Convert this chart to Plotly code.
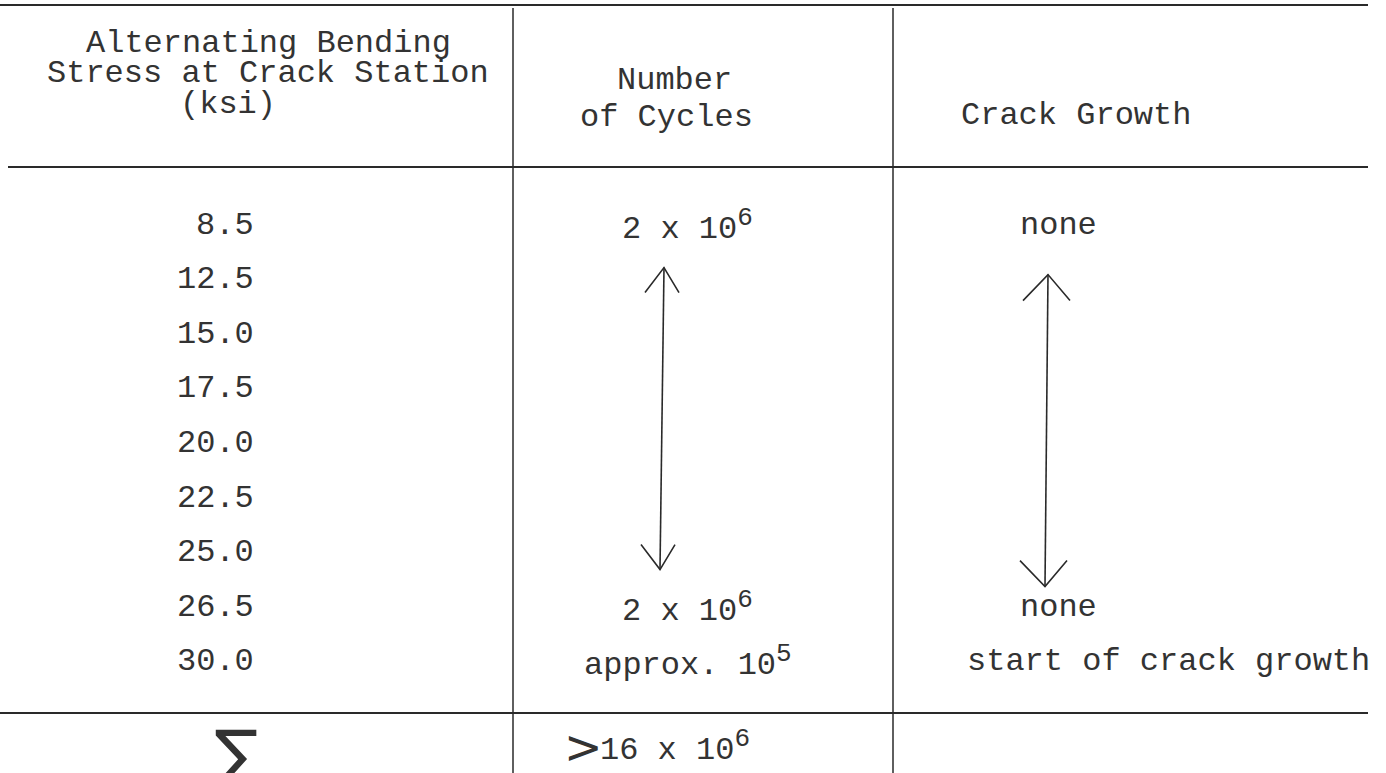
import plotly.graph_objects as go

# ---------------- data ----------------
header_stress = ["Alternating Bending", "Stress at Crack Station", "(ksi)"]
header_cycles = ["Number", "of Cycles"]
header_growth = ["Crack Growth"]

stress_ksi = ["8.5", "12.5", "15.0", "17.5", "20.0", "22.5", "25.0", "26.5", "30.0"]
cycles_base = ["2 x 10", "", "", "", "", "", "", "2 x 10", "approx. 10"]
cycles_exp = ["6", "", "", "", "", "", "", "6", "5"]
growth = ["none", "", "", "", "", "", "", "none", "start of crack growth"]

total_symbol = "∑"
total_prefix = ">"
total_base = "16 x 10"
total_exp = "6"

# rows spanned by the "same as above" arrows (first row index, last row index)
cycles_arrow_rows = (1, 6)
growth_arrow_rows = (1, 6)

# ---------------- layout helpers ----------------
W, H = 1386, 773
FONT = "Liberation Mono, Courier New, monospace"
FS = 32
TXT = "#333333"
LINE = "#2a2a2a"

row_y0, row_dy = 225, 54.6
def row_y(i):
    return row_y0 + i * row_dy

col_edges = [513, 893]
rule_top, rule_head, rule_foot = 5, 167, 713

fig = go.Figure()

def ann(x, y, text, xanchor="center", size=FS, font=FONT):
    fig.add_annotation(x=x, y=y, xref="x", yref="y", text=text, showarrow=False,
                       xanchor=xanchor, yanchor="middle",
                       font=dict(family=font, size=size, color=TXT))

def power(base, exp):
    return f"{base}<sup><span style='font-size:{FS - 6}px'>{exp}</span></sup>"

# horizontal rules
fig.add_shape(type="line", x0=0, x1=1368, y0=rule_top, y1=rule_top, line=dict(color=LINE, width=2))
fig.add_shape(type="line", x0=8, x1=1368, y0=rule_head, y1=rule_head, line=dict(color=LINE, width=2))
fig.add_shape(type="line", x0=0, x1=1368, y0=rule_foot, y1=rule_foot, line=dict(color=LINE, width=2))
# vertical rules
for cx in col_edges:
    fig.add_shape(type="line", x0=cx, x1=cx, y0=rule_top + 3, y1=H, line=dict(color=LINE, width=1.5))

# headers
for txt, (cx, cy) in zip(header_stress, [(268, 43), (268, 73), (228, 104)]):
    ann(cx, cy, txt)
for txt, (cx, cy) in zip(header_cycles, [(674, 80), (666, 117)]):
    ann(cx, cy, txt)
for txt, (cx, cy) in zip(header_growth, [(1076, 115)]):
    ann(cx, cy, txt)

# body
cycles_x = [620, None, None, None, None, None, None, 620, 582]
growth_x = [1018, None, None, None, None, None, None, 1018, 965]
for i, v in enumerate(stress_ksi):
    ann(256, row_y(i), v, xanchor="right")
for i, (b, e) in enumerate(zip(cycles_base, cycles_exp)):
    if b:
        ann(cycles_x[i], row_y(i), power(b, e), xanchor="left")
for i, v in enumerate(growth):
    if v:
        ann(growth_x[i], row_y(i), v, xanchor="left")

# arrows (double headed, open heads)
def double_arrow(xt, xb, r0, r1, top_off, bot_off, hw_l, hw_r, hh):
    yt = row_y(r0) + top_off
    yb = row_y(r1) + bot_off
    xs = [xt, xb, None, xt - hw_l, xt, xt + hw_r, None, xb - hw_l, xb, xb + hw_r]
    ys = [yt, yb, None, yt + hh, yt, yt + hh, None, yb - hh, yb, yb - hh]
    fig.add_trace(go.Scatter(x=xs, y=ys, mode="lines", line=dict(color=LINE, width=1.6),
                             hoverinfo="skip", showlegend=False))

double_arrow(664, 660, *cycles_arrow_rows, -12, 17, 19, 15, 25)
double_arrow(1048, 1045, *growth_arrow_rows, -5, 34, 25, 22, 26)

# totals row
ann(236, 754, total_symbol, size=66, font="DejaVu Sans")
ann(562, 747, total_prefix, xanchor="left", size=46, font="DejaVu Sans")
ann(598, 746, power(total_base, total_exp), xanchor="left")

fig.update_layout(
    width=W, height=H, autosize=False,
    margin=dict(l=0, r=0, t=0, b=0),
    paper_bgcolor="white", plot_bgcolor="white",
    xaxis=dict(range=[0, W], visible=False, fixedrange=True),
    yaxis=dict(range=[H, 0], visible=False, fixedrange=True),
    showlegend=False,
)

fig.write_html("out.html", config={"displayModeBar": False},
               post_script="document.body.style.margin='0px';document.body.style.overflow='hidden';")
